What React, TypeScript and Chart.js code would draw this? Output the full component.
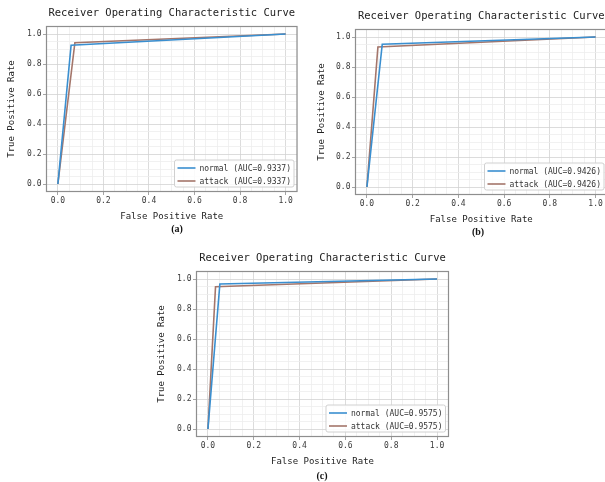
import React, { useEffect, useRef } from 'react';
import { Chart, registerables } from 'chart.js';

Chart.register(...registerables);

// ---- data ----
const chartTitle = 'Receiver Operating Characteristic Curve';
const xAxisTitle = 'False Positive Rate';
const yAxisTitle = 'True Positive Rate';
const seriesNames = ['normal', 'attack'];
const panelLabels = ['(a)', '(b)', '(c)'];
const aucValues = ['0.9337', '0.9426', '0.9575'];

const normalFprA = [0, 0.058, 1];
const normalTprA = [0, 0.9254, 1];
const attackFprA = [0, 0.0746, 1];
const attackTprA = [0, 0.942, 1];

const normalFprB = [0, 0.067, 1];
const normalTprB = [0, 0.952, 1];
const attackFprB = [0, 0.048, 1];
const attackTprB = [0, 0.933, 1];

const normalFprC = [0, 0.052, 1];
const normalTprC = [0, 0.967, 1];
const attackFprC = [0, 0.033, 1];
const attackTprC = [0, 0.948, 1];

const panelSeries = [
  [[normalFprA, normalTprA], [attackFprA, attackTprA]],
  [[normalFprB, normalTprB], [attackFprB, attackTprB]],
  [[normalFprC, normalTprC], [attackFprC, attackTprC]],
];

// ---- styling / layout ----
const seriesColors = ['#3a8fd0', '#a4766b'];
const MONO = '"DejaVu Sans Mono", monospace';

const layouts = [
  { left: 0, top: 0, width: 300, height: 225, padLeft: 6.6, yW: 39.9, padRight: 3, padTop: 26.5, titleY: 13, padBottom: 2.6, lab: { x: 177, y: 229 } },
  { left: 305, top: 0, width: 305, height: 228, padLeft: 11.6, yW: 38.9, padRight: 3, padTop: 29.5, titleY: 16, padBottom: 2.6, lab: { x: 478, y: 232 } },
  { left: 150, top: 240, width: 305, height: 230, padLeft: 6.6, yW: 39.9, padRight: 6.5, padTop: 31.5, titleY: 18, padBottom: 2.6, lab: { x: 322, y: 476 } },
];

const isMajor = (v: number) => Math.abs(v / 0.2 - Math.round(v / 0.2)) < 1e-6 && v > -0.01 && v < 1.01;
const fmt = (v: number) => (Math.abs(v) < 1e-9 ? 0 : v).toFixed(1);

const framePlugin = {
  id: 'frameLegend',
  afterDatasetsDraw(chart: any) {
    const { ctx, chartArea: a } = chart;
    const opts = chart.options.plugins.frameLegend || {};
    ctx.save();
    // frame
    ctx.strokeStyle = '#8e8e8e';
    ctx.lineWidth = 1.2;
    ctx.strokeRect(a.left, a.top, a.right - a.left, a.bottom - a.top);
    // title centred over the plot area
    ctx.font = `10.5px ${MONO}`;
    ctx.fillStyle = '#222';
    ctx.textAlign = 'center';
    ctx.textBaseline = 'middle';
    ctx.fillText(opts.title, (a.left + a.right) / 2, opts.titleY);
    // legend
    ctx.font = `8px ${MONO}`;
    const ds = chart.data.datasets;
    const tw = Math.max(...ds.map((d: any) => ctx.measureText(d.label).width));
    const lineLen = 18, gap = 4, padL = 3, padR = 3, rowH = 13;
    const w = padL + lineLen + gap + tw + padR;
    const h = 27;
    const x = a.right - 3 - w;
    const y = a.bottom - 4.5 - h;
    ctx.beginPath();
    if (ctx.roundRect) ctx.roundRect(x, y, w, h, 2); else ctx.rect(x, y, w, h);
    ctx.fillStyle = 'rgba(255,255,255,0.85)';
    ctx.fill();
    ctx.strokeStyle = '#d0d0d0';
    ctx.lineWidth = 1;
    ctx.stroke();
    ds.forEach((d: any, i: number) => {
      const ry = y + 8 + i * rowH;
      ctx.beginPath();
      ctx.moveTo(x + padL, ry);
      ctx.lineTo(x + padL + lineLen, ry);
      ctx.strokeStyle = d.borderColor;
      ctx.lineWidth = 1.6;
      ctx.stroke();
      ctx.fillStyle = '#333';
      ctx.textBaseline = 'middle';
      ctx.textAlign = 'left';
      ctx.fillText(d.label, x + padL + lineLen + gap, ry + 0.5);
    });
    ctx.restore();
  },
};

function Panel({ idx }: { idx: number }) {
  const ref = useRef<HTMLCanvasElement>(null);
  const L = layouts[idx];
  useEffect(() => {
    const series = panelSeries[idx];
    const gridColor = (c: any) => (isMajor(c.tick.value) ? '#d3d3d3' : '#ededed');
    const tickColor = (c: any) => (isMajor(c.tick.value) ? '#8e8e8e' : 'rgba(0,0,0,0)');
    const axisCommon = {
      type: 'linear' as const,
      min: -0.05,
      max: 1.05,
      grid: { color: gridColor, tickColor, lineWidth: 0.8, tickLength: 3.5, drawTicks: true },
      border: { display: false },
      ticks: {
        stepSize: 0.05,
        autoSkip: false,
        maxRotation: 0,
        padding: 1.5,
        color: '#3a3a3a',
        font: { family: MONO, size: 8 },
        callback: (v: any) => (isMajor(Number(v)) ? fmt(Number(v)) : ''),
      },
    };
    const chart = new Chart(ref.current!, {
      type: 'line',
      data: {
        datasets: series.map((s, i) => ({
          label: `${seriesNames[i]} (AUC=${aucValues[idx]})`,
          data: s[0].map((x, j) => ({ x, y: s[1][j] })),
          borderColor: seriesColors[i],
          borderWidth: 1.6,
          pointRadius: 0,
          tension: 0,
          fill: false,
        })),
      },
      options: {
        responsive: false,
        animation: false,
        layout: { padding: { left: L.padLeft, right: L.padRight, top: L.padTop, bottom: L.padBottom } },
        plugins: {
          legend: { display: false },
          tooltip: { enabled: false },
          title: { display: false },
          frameLegend: { title: chartTitle, titleY: L.titleY },
        },
        scales: {
          x: {
            ...axisCommon,
            position: 'bottom',
            title: { display: true, text: xAxisTitle, color: '#222', font: { family: MONO, size: 9 }, padding: 0 },
            afterFit: (s: any) => { s.height = 30.9; },
          },
          y: {
            ...axisCommon,
            position: 'left',
            title: { display: true, text: yAxisTitle, color: '#222', font: { family: MONO, size: 9 }, padding: 0 },
            afterFit: (s: any) => { s.width = L.yW; },
          },
        },
      } as any,
      plugins: [framePlugin],
    });
    return () => chart.destroy();
  }, [idx]);
  return (
    <>
      <canvas
        ref={ref}
        width={L.width}
        height={L.height}
        style={{ position: 'absolute', left: L.left, top: L.top, width: L.width, height: L.height }}
      />
      <div
        style={{
          position: 'absolute',
          left: L.lab.x - 20,
          top: L.lab.y - 7,
          width: 40,
          textAlign: 'center',
          font: 'bold 10px "Liberation Serif", "Times New Roman", serif',
          lineHeight: '14px',
          color: '#111',
        }}
      >
        {panelLabels[idx]}
      </div>
    </>
  );
}

export default function App() {
  return (
    <div
      style={{
        position: 'fixed',
        left: 0,
        top: 0,
        width: 605,
        height: 482,
        overflow: 'hidden',
        background: '#fff',
      }}
    >
      <Panel idx={0} />
      <Panel idx={1} />
      <Panel idx={2} />
    </div>
  );
}
